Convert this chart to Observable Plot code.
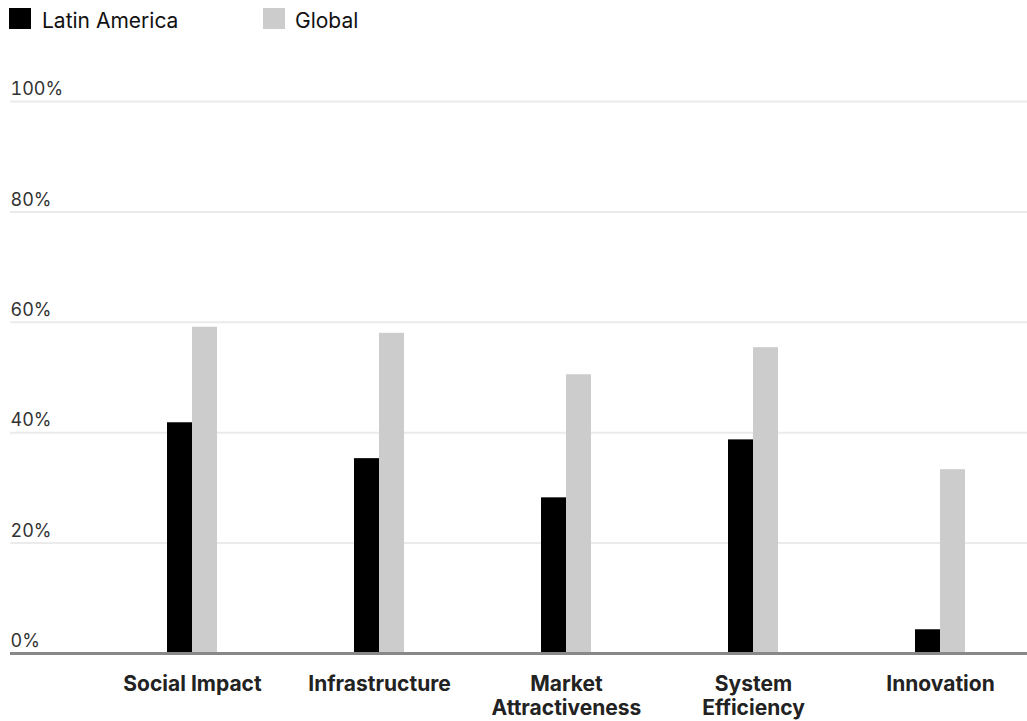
<!DOCTYPE html>
<html>
<head>
<meta charset="utf-8">
<script src="https://cdn.jsdelivr.net/npm/d3@7"></script>
<script src="https://cdn.jsdelivr.net/npm/@observablehq/plot@0.6"></script>
<style>
  html, body { margin: 0; padding: 0; background: #fff; }
  body { width: 1027px; height: 721px; overflow: hidden; font-family: Inter, "Noto Sans", sans-serif; }
  #legend { position: relative; height: 40px; width: 1027px; }
  #legend .sw { position: absolute; top: 8px; width: 22px; height: 21px; }
  #legend .lb { position: absolute; top: 10px; font-size: 21px; line-height: 22px; color: #111; }
  #chart svg { display: block; }
</style>
</head>
<body>
<div id="legend"></div>
<div id="chart"></div>
<script>
const categories = ["Social Impact", "Infrastructure", "Market Attractiveness", "System Efficiency", "Innovation"];
const tickLabels = ["Social Impact", "Infrastructure", "Market\nAttractiveness", "System\nEfficiency", "Innovation"];
const latinAmerica = [41.8, 35.3, 28.2, 38.7, 4.3];
const global = [59.1, 58.0, 50.5, 55.4, 33.3];
const yTicks = [0, 20, 40, 60, 80, 100];
const gridTicks = [20, 40, 60, 80, 100];
const seriesNames = ["Latin America", "Global"];
const seriesColors = ["#000000", "#cccccc"];

// Legend
const legend = document.getElementById("legend");
const legendPos = [{sw: 9, lb: 42}, {sw: 263, lb: 295}];
seriesNames.forEach((name, i) => {
  const sw = document.createElement("div");
  sw.className = "sw";
  sw.style.left = legendPos[i].sw + "px";
  sw.style.background = seriesColors[i];
  legend.appendChild(sw);
  const lb = document.createElement("div");
  lb.className = "lb";
  lb.style.left = legendPos[i].lb + "px";
  lb.textContent = name;
  legend.appendChild(lb);
});

const laRows = categories.map((c, i) => ({category: c, value: latinAmerica[i]}));
const glRows = categories.map((c, i) => ({category: c, value: global[i]}));

const chart = Plot.plot({
  width: 1027,
  height: 681,
  marginLeft: 10,
  marginRight: 0,
  marginTop: 61,
  marginBottom: 68,
  style: {fontFamily: "Inter, 'Noto Sans', sans-serif", fontSize: "18px", background: "#fff"},
  x: {
    type: "band",
    domain: categories,
    range: [97.4, 1033.6],
    paddingInner: 0.733,
    paddingOuter: 0.3665,
    align: 0.5
  },
  y: {domain: [0, 100]},
  marks: [
    Plot.ruleY(gridTicks, {stroke: "#ebebeb", strokeWidth: 2}),
    Plot.barY(laRows, {x: "category", y: "value", fill: seriesColors[0], insetRight: 25}),
    Plot.barY(glRows, {x: "category", y: "value", fill: seriesColors[1], insetLeft: 25}),
    Plot.ruleY([0], {stroke: "#888888", strokeWidth: 3}),
    Plot.axisY({
      ticks: yTicks,
      tickFormat: d => d + "%",
      tickSize: 0,
      tickPadding: 0,
      textAnchor: "start",
      dy: -12,
      fontSize: 18,
      fill: "#333333",
      label: null
    }),
    Plot.axisX({
      tickSize: 0,
      tickPadding: 20,
      tickFormat: d => tickLabels[categories.indexOf(d)],
      fontSize: 21,
      fontWeight: 700,
      lineHeight: 1.16,
      fill: "#222222",
      label: null
    })
  ]
});
document.getElementById("chart").appendChild(chart);
</script>
</body>
</html>
